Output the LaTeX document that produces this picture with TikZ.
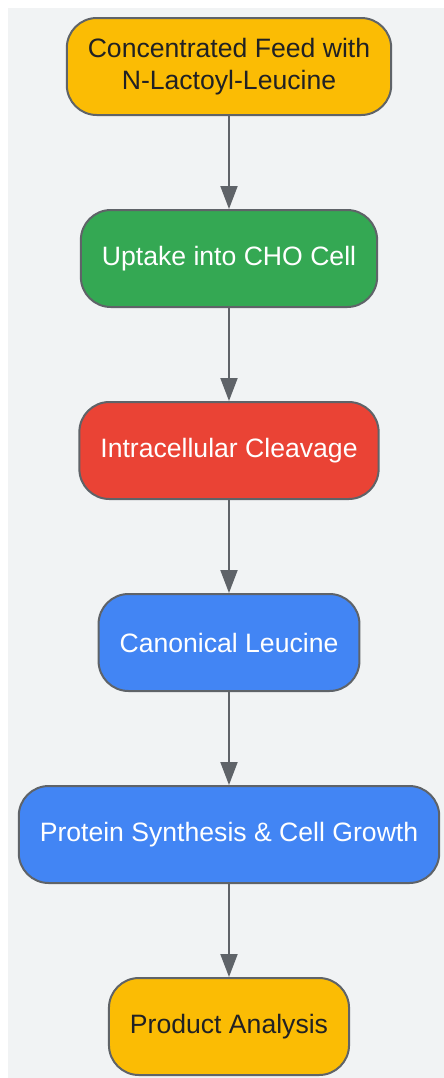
\documentclass[tikz,border=0pt]{standalone}
\usepackage{fontspec}
\setmainfont{Liberation Sans}
\usetikzlibrary{arrows.meta}

\definecolor{feedyellow}{HTML}{FBBC04}
\definecolor{cellgreen}{HTML}{34A853}
\definecolor{cleavered}{HTML}{EA4335}
\definecolor{leublue}{HTML}{4285F4}
\definecolor{edgegray}{HTML}{5F6368}
\definecolor{bggray}{HTML}{F1F3F4}
\definecolor{darktext}{HTML}{202124}

\tikzset{
  stage/.style={draw=edgegray, line width=1pt, rounded corners=15pt,
    minimum height=48.5pt, inner xsep=10.5pt, align=center,
    font=\fontsize{13.3pt}{16pt}\selectfont},
  flow/.style={draw=edgegray, line width=1pt, -{Triangle[length=11.5pt,width=8.5pt]}}
}

\begin{document}
\begin{tikzpicture}[x=0.5pt,y=-0.5pt]
    \useasboundingbox (0,0) rectangle (444,1078);
    % Background
    \fill[bggray] (8,8) rectangle (444,1078);

    % Feed
    \node[stage, fill=feedyellow, text=darktext] (feed) at (229,66.5) {Concentrated Feed with\\N-Lactoyl-Leucine};

    % Uptake
    \node[stage, fill=cellgreen, text=white] (uptake) at (229,258.5) {Uptake into CHO Cell};

    % Cleavage
    \node[stage, fill=cleavered, text=white] (cleave) at (229,450.5) {Intracellular Cleavage};

    % Leucine
    \node[stage, fill=leublue, text=white] (leucine) at (229,642.5) {Canonical Leucine};

    % Synthesis
    \node[stage, fill=leublue, text=white] (synth) at (229,834.5) {Protein Synthesis \& Cell Growth};

    % Analysis
    \node[stage, fill=feedyellow, text=darktext] (analysis) at (229,1026.5) {Product Analysis};

    % Arrows
    \draw[flow] (feed) -- (uptake);
    \draw[flow] (uptake) -- (cleave);
    \draw[flow] (cleave) -- (leucine);
    \draw[flow] (leucine) -- (synth);
    \draw[flow] (synth) -- (analysis);
\end{tikzpicture}
\end{document}
